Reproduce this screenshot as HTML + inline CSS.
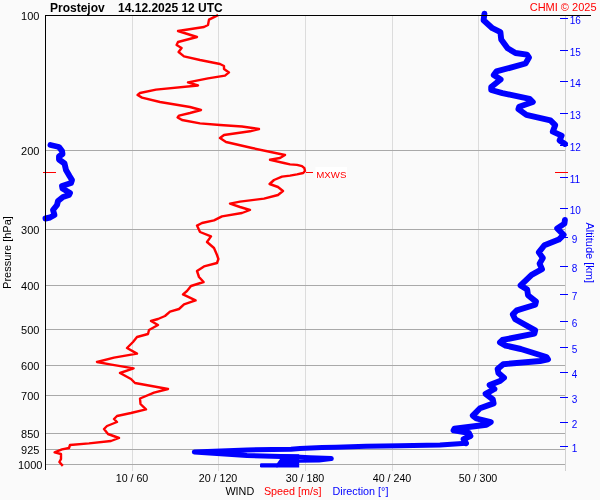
<!DOCTYPE html>
<html><head><meta charset="utf-8">
<style>
html,body{margin:0;padding:0;background:#fafafa;}
svg{display:block;font-family:"Liberation Sans",Arial,sans-serif;font-size:12px;}
</style></head><body>
<svg width="600" height="500" viewBox="0 0 600 500">
<rect width="600" height="500" fill="#fafafa"/>
<!-- grid -->
<g stroke="#dcdcdc" stroke-width="1" shape-rendering="crispEdges">
<line x1="132.5" y1="15" x2="132.5" y2="471"/>
<line x1="218.5" y1="15" x2="218.5" y2="471"/>
<line x1="305.5" y1="15" x2="305.5" y2="471"/>
<line x1="392.5" y1="15" x2="392.5" y2="471"/>
<line x1="478.5" y1="15" x2="478.5" y2="471"/>
</g>
<g stroke="#a9a9a9" stroke-width="1" shape-rendering="crispEdges">
<line x1="45" y1="150.5" x2="565" y2="150.5"/>
<line x1="45" y1="229.5" x2="565" y2="229.5"/>
<line x1="45" y1="285.5" x2="565" y2="285.5"/>
<line x1="45" y1="329.5" x2="565" y2="329.5"/>
<line x1="45" y1="365.5" x2="565" y2="365.5"/>
<line x1="45" y1="395.5" x2="565" y2="395.5"/>
<line x1="45" y1="433.5" x2="565" y2="433.5"/>
<line x1="45" y1="449.5" x2="565" y2="449.5"/>
<line x1="45" y1="464.5" x2="565" y2="464.5"/>
</g>
<line x1="565.5" y1="15" x2="565.5" y2="471" stroke="#d0d0d0" shape-rendering="crispEdges"/>
<!-- alt ticks -->
<g stroke="#00f" stroke-width="1" shape-rendering="crispEdges">
<line x1="560" y1="18.5" x2="568" y2="18.5"/>
<line x1="560" y1="50.5" x2="568" y2="50.5"/>
<line x1="560" y1="81.5" x2="568" y2="81.5"/>
<line x1="560" y1="113.5" x2="568" y2="113.5"/>
<line x1="560" y1="145.5" x2="568" y2="145.5"/>
<line x1="560" y1="177.5" x2="568" y2="177.5"/>
<line x1="560" y1="208.5" x2="568" y2="208.5"/>
<line x1="560" y1="237.5" x2="568" y2="237.5"/>
<line x1="560" y1="266.5" x2="568" y2="266.5"/>
<line x1="560" y1="294.5" x2="568" y2="294.5"/>
<line x1="560" y1="321.5" x2="568" y2="321.5"/>
<line x1="560" y1="347.5" x2="568" y2="347.5"/>
<line x1="560" y1="372.5" x2="568" y2="372.5"/>
<line x1="560" y1="397.5" x2="568" y2="397.5"/>
<line x1="560" y1="422.5" x2="568" y2="422.5"/>
<line x1="560" y1="446.5" x2="568" y2="446.5"/>
</g>
<!-- curves -->
<path d="M217,15.6 L209,19.6 L208,25 L204,27 L178,31 L197,37 L178,42 L176.6,45 L181.6,48 L178.6,52 L184,56.4 L200,60 L220,64 L224,66 L224,69 L229,72.4 L225,75.6 L208,78.4 L188,82.4 L198,85.5 L156,89.6 L140,93 L137.6,95 L142,97.6 L160,102 L190,107 L201,110 L190,113 L179,115.6 L177.6,117.4 L182,120 L200,123.4 L220,125 L242,126.5 L259,129 L250,131.3 L224,135 L220,138 L226,142 L252,148 L285,155 L280,158 L270,159.8 L284,163 L290,164.4 L297,164.9 L302,166.2 L304.4,168.2 L305,171 L303.2,173 L297,174.4 L290,175.6 L282,176.6 L274,180 L269.6,184 L278,187 L283,191 L278,195 L264,198.6 L240,201.6 L230,203.6 L240,207 L250,210 L242,213 L222,216.4 L214,220.4 L202,223 L197,225.6 L200,232 L211,236.4 L207,242 L214,248 L217,255 L218.4,259 L217,263 L204,266.4 L197,271 L199,277 L203.6,282 L191,286 L187,291 L183,294.4 L195.6,300.4 L184,304.4 L179,309 L170,311.6 L165,316 L158,319 L151,321 L158,325 L149,330 L148,334 L137,337 L133,342 L127,348 L137,353.6 L114,357.6 L97,362 L110,364.4 L133.6,368.4 L120,373 L131,379 L135,383 L168,389 L154,392.6 L140,398.5 L140.5,404 L146,409.4 L131,413 L117,416 L114,419 L117,422 L107,426 L104,429 L108,434 L119,438 L111,441 L89,443.4 L70,445 L69,448 L62,449.4 L54.6,452.4 L61,454 L61,459 L59.4,462 L62,465" fill="none" stroke="#f00" stroke-width="2.4" stroke-linejoin="round" stroke-linecap="square"/>
<g stroke="#f00" stroke-width="1" shape-rendering="crispEdges">
<line x1="306" y1="172.5" x2="313" y2="172.5"/>
<line x1="43" y1="172.5" x2="56" y2="172.5"/>
<line x1="555" y1="172.5" x2="568" y2="172.5"/>
</g>
<rect x="315.5" y="167" width="31.5" height="11" fill="#fff"/>
<text x="316.3" y="177.5" font-size="9.7" fill="#f00">MXWS</text>
<g fill="none" stroke="#00f" stroke-width="5.9" stroke-linejoin="round" stroke-linecap="round">
<path d="M50.5,145 L59,147 L62,151 L62.5,154 L59,156.5 L59,159.5 L64.5,163.5 L66,170 L69.5,176 L72,180 L71,183 L62,186 L62.5,188.5 L70,193 L69,195 L63,197 L58,201 L57,205 L53,210 L54.5,215 L50,217.5 L45.5,218.5"/>
<path d="M484.4,13.8 L483.6,20.2 L492.4,28.2 L500.4,32.2 L501.2,39.4 L507.6,48.2 L515.5,53 L527,54.6 L529,57.6 L525.5,63.5 L511.6,67.4 L496.4,71.4 L493.8,75 L500.6,79.5 L491.2,87 L491.2,90 L502.4,93.2 L529.6,98.8 L532.8,102 L519.2,106.8 L518.4,109.2 L526.4,114.8 L550.4,120.4 L555.2,125.2 L552.8,131.6 L561.6,135.6 L559.6,140.4 L565,143.9"/>
<path d="M564.9,219.9 L564.4,223.6 L557.2,228.4 L563.6,234.8 L558.8,239.6 L544.4,245.2 L538.8,252.4 L542.8,258 L539.6,263.6 L542,269.2 L531.6,274.8 L520.6,285.4 L527.2,289.6 L528,295.2 L536,301.6 L535.2,304.8 L516.8,310.4 L512.8,314.4 L515.2,319.2 L535.2,330.4 L534.4,333.6 L502.4,340 L500,342.4 L505.6,345.6 L520.8,349 L546.4,357 L548,359.4 L540,361 L503.2,364.2 L497.6,369 L498.4,373 L504,377.8 L500,381 L489.6,385 L494.4,389 L485.6,393.8 L492.8,399.4 L493.6,403.4 L480,408.2 L472.8,415.6 L476.4,418.5 L490.8,422 L486.4,424.8 L454.4,428.8 L453.6,430.4 L468.8,432.8 L470.4,436 L463.6,439.2 L466,443.2"/>
</g>
<g fill="none" stroke="#00f" stroke-width="5" stroke-linejoin="round" stroke-linecap="round">
<path d="M466,443.2 L440,445 L400,445.8 L366,446.3 L336,447.2 L322,447.6 L300,448.4 L291,449.2 L247,450 L194.3,452 L247,455.5 L290,456.7 L310,457.7 L331.3,458.6 L319,459.9 L299,460.3"/>
</g>
<path d="M282,454.2 L299.2,454.2 L299.2,467.5 L276.5,467.5 L276.5,464 L280,459 Z" fill="#00f"/>
<rect x="260" y="463.2" width="18" height="4.3" rx="1.2" fill="#00f"/>
<!-- endcurves -->
<g shape-rendering="crispEdges">
<line x1="45" y1="15.5" x2="591" y2="15.5" stroke="#000"/>
<line x1="45.5" y1="15" x2="45.5" y2="470" stroke="#000"/>
</g>
<!-- text -->
<text x="50" y="12" font-weight="bold">Prostejov&#160;&#160;&#160; 14.12.2025 12 UTC</text>
<text x="596.5" y="11" text-anchor="end" fill="#f00" font-size="11">CHMI © 2025</text>
<g text-anchor="middle" font-size="11">
<text x="30.2" y="20">100</text>
<text x="30.2" y="155">200</text>
<text x="30.2" y="234">300</text>
<text x="30.2" y="290">400</text>
<text x="30.2" y="334">500</text>
<text x="30.2" y="370">600</text>
<text x="30.2" y="400">700</text>
<text x="30.2" y="438">850</text>
<text x="30.2" y="454">925</text>
<text x="30.2" y="469">1000</text>
</g>
<text transform="translate(11.2,252.5) rotate(-90)" text-anchor="middle" font-size="11">Pressure [hPa]</text>
<g text-anchor="middle" font-size="10.67">
<text x="132" y="482">10 / 60</text>
<text x="218" y="482">20 / 120</text>
<text x="305" y="482">30 / 180</text>
<text x="392" y="482">40 / 240</text>
<text x="478" y="482">50 / 300</text>
</g>
<text x="225.4" y="494.5" font-size="10.8">WIND</text>
<text x="263.9" y="494.5" font-size="10.8" fill="#f00">Speed [m/s]</text>
<text x="332.5" y="494.5" font-size="10.8" fill="#00f">Direction [°]</text>
<text transform="translate(586,252.7) rotate(90)" text-anchor="middle" fill="#00f" font-size="11">Altitude [km]</text>
<g fill="#00f" font-size="10" transform="translate(0,0.5)">
<text x="569.7" y="23">16</text>
<text x="569.7" y="55">15</text>
<text x="569.7" y="86">14</text>
<text x="569.7" y="118">13</text>
<text x="569.7" y="150">12</text>
<text x="569.7" y="182">11</text>
<text x="569.7" y="213">10</text>
<text x="571.8" y="242">9</text>
<text x="571.8" y="271">8</text>
<text x="571.8" y="299">7</text>
<text x="571.8" y="326">6</text>
<text x="571.8" y="352">5</text>
<text x="571.8" y="377">4</text>
<text x="571.8" y="402">3</text>
<text x="571.8" y="427">2</text>
<text x="571.8" y="451">1</text>
</g>
</svg>
</body></html>
